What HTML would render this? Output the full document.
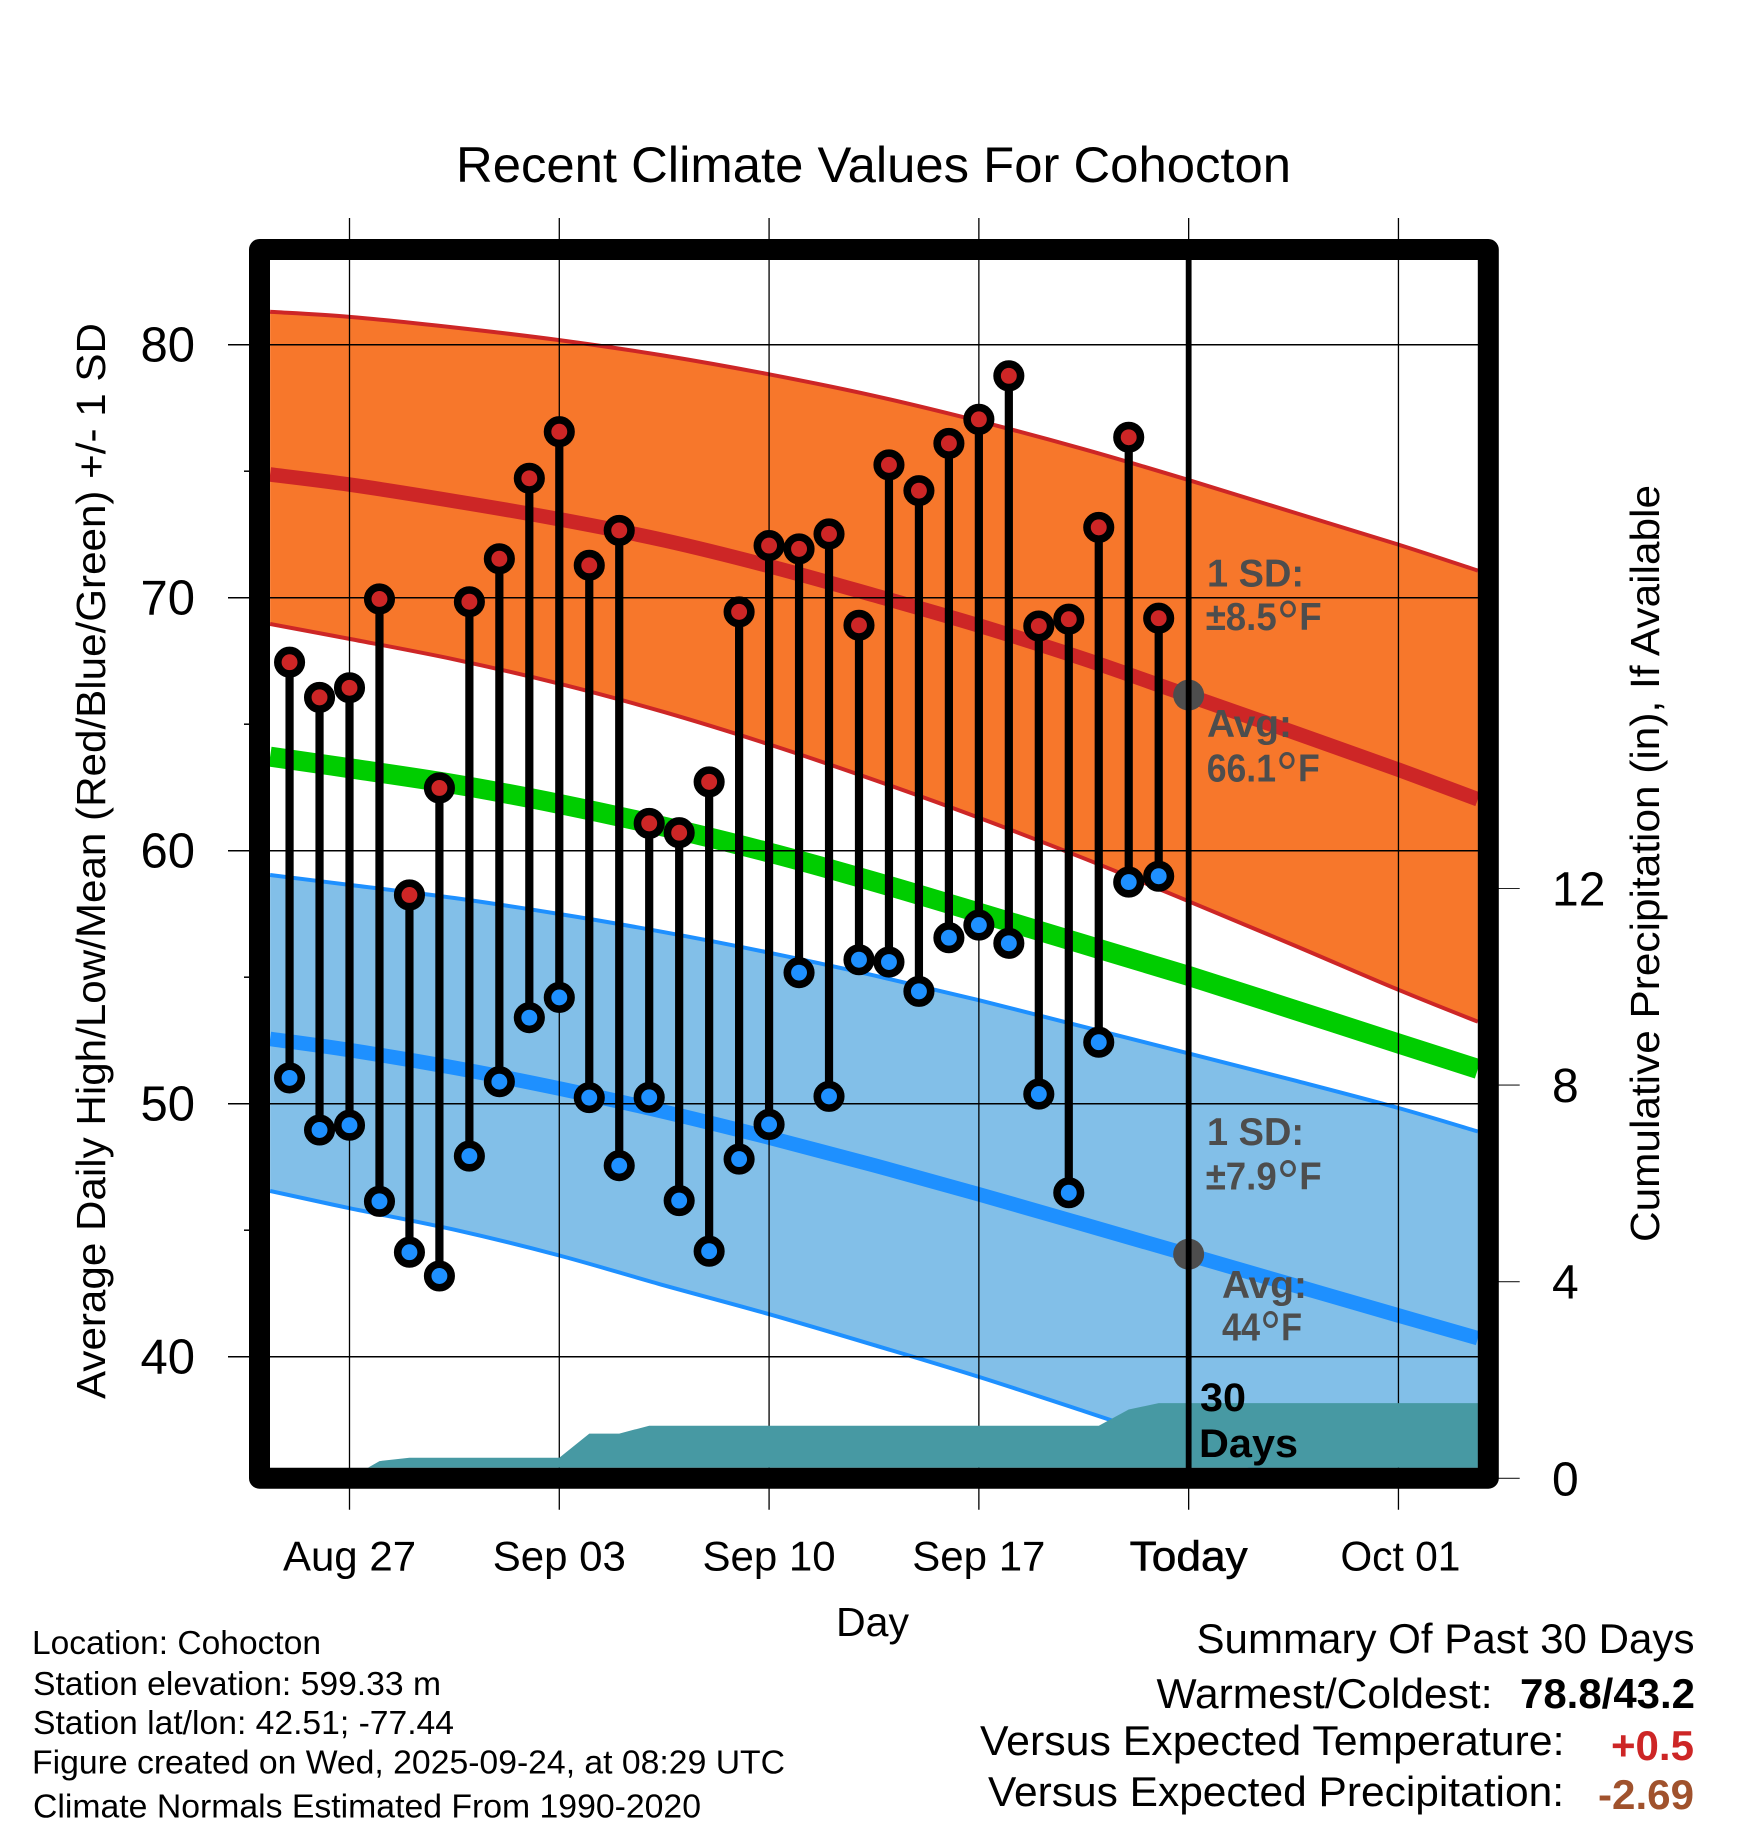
<!DOCTYPE html>
<html lang="en">
<head>
<meta charset="utf-8">
<title>Recent Climate Values For Cohocton</title>
<style>
  html, body { margin: 0; padding: 0; background: #fff; }
  svg { display: block; }
  text { font-family: "Liberation Sans", sans-serif; fill: #000; }
  .note { font-size: 39px; font-weight: bold; fill: #4d4d4d; }
  .meta { font-size: 33px; }
  .summary { font-size: 42px; }
  .strong { font-size: 42px; font-weight: bold; }
</style>
</head>
<body>
<svg id="chart" xmlns="http://www.w3.org/2000/svg" width="1748" height="1828" viewBox="0 0 1748 1828">
  <defs>
    <clipPath id="plot-clip"><rect x="270" y="260" width="1208" height="1207.7"/></clipPath>
  </defs>
  <rect x="0" y="0" width="1748" height="1828" fill="#fff"/>
  <g id="bands" clip-path="url(#plot-clip)"></g>
  <g id="grid"></g>
  <g id="precip" clip-path="url(#plot-clip)"></g>
  <g id="marks"></g>
  <g id="labels"></g>

  <text class="note" x="1207" y="586.7" textLength="97" lengthAdjust="spacingAndGlyphs">1 SD:</text>
  <text class="note" x="1205.7" y="630" textLength="116" lengthAdjust="spacingAndGlyphs">±8.5<tspan dy="13" style="font-size:60px;font-weight:normal">°</tspan><tspan dy="-13">F</tspan></text>
  <text class="note" x="1207" y="737" textLength="85" lengthAdjust="spacingAndGlyphs">Avg:</text>
  <text class="note" x="1206.7" y="781.7" textLength="113" lengthAdjust="spacingAndGlyphs">66.1<tspan dy="13" style="font-size:60px;font-weight:normal">°</tspan><tspan dy="-13">F</tspan></text>
  <text class="note" x="1207" y="1145" textLength="97" lengthAdjust="spacingAndGlyphs">1 SD:</text>
  <text class="note" x="1205.7" y="1189.3" textLength="116" lengthAdjust="spacingAndGlyphs">±7.9<tspan dy="13" style="font-size:60px;font-weight:normal">°</tspan><tspan dy="-13">F</tspan></text>
  <text class="note" x="1222" y="1298" textLength="85" lengthAdjust="spacingAndGlyphs">Avg:</text>
  <text class="note" x="1222" y="1340.7" textLength="80" lengthAdjust="spacingAndGlyphs">44<tspan dy="13" style="font-size:60px;font-weight:normal">°</tspan><tspan dy="-13">F</tspan></text>
  <text x="1200" y="1411" font-size="40" font-weight="bold" textLength="46" lengthAdjust="spacingAndGlyphs">30</text>
  <text x="1199" y="1457" font-size="40" font-weight="bold" textLength="99" lengthAdjust="spacingAndGlyphs">Days</text>

  <rect x="259.5" y="249.5" width="1228.8" height="1228.7" fill="none" stroke="#000" stroke-width="21" stroke-linejoin="round"/>

  <text x="456" y="182" font-size="50" textLength="835" lengthAdjust="spacingAndGlyphs">Recent Climate Values For Cohocton</text>
  <text transform="translate(105 1399) rotate(-90)" x="0" y="0" font-size="40.5" textLength="1076" lengthAdjust="spacingAndGlyphs">Average Daily High/Low/Mean (Red/Blue/Green) +/- 1 SD</text>
  <text transform="translate(1659 1242) rotate(-90)" x="0" y="0" font-size="41" textLength="757" lengthAdjust="spacingAndGlyphs">Cumulative Precipitation (in), If Available</text>
  <text x="836" y="1636" font-size="41" textLength="73" lengthAdjust="spacingAndGlyphs">Day</text>

  <text class="meta" x="32" y="1654" textLength="289" lengthAdjust="spacingAndGlyphs">Location: Cohocton</text>
  <text class="meta" x="33" y="1695" textLength="408" lengthAdjust="spacingAndGlyphs">Station elevation: 599.33 m</text>
  <text class="meta" x="33" y="1734" textLength="421" lengthAdjust="spacingAndGlyphs">Station lat/lon: 42.51; -77.44</text>
  <text class="meta" x="32" y="1773.3" textLength="753" lengthAdjust="spacingAndGlyphs">Figure created on Wed, 2025-09-24, at 08:29 UTC</text>
  <text class="meta" x="33" y="1817.3" textLength="668" lengthAdjust="spacingAndGlyphs">Climate Normals Estimated From 1990-2020</text>

  <text class="summary" x="1196.5" y="1653" textLength="498" lengthAdjust="spacingAndGlyphs">Summary Of Past 30 Days</text>
  <text class="summary" x="1156.5" y="1708" textLength="336" lengthAdjust="spacingAndGlyphs">Warmest/Coldest:</text>
  <text class="strong" x="1520" y="1708" textLength="175" lengthAdjust="spacingAndGlyphs">78.8/43.2</text>
  <text class="summary" x="980" y="1755" textLength="584.5" lengthAdjust="spacingAndGlyphs">Versus Expected Temperature:</text>
  <text class="strong" x="1611" y="1760" textLength="83" lengthAdjust="spacingAndGlyphs" style="fill:#cd2626">+0.5</text>
  <text class="summary" x="988" y="1806" textLength="576" lengthAdjust="spacingAndGlyphs">Versus Expected Precipitation:</text>
  <text class="strong" x="1598" y="1809" textLength="96" lengthAdjust="spacingAndGlyphs" style="fill:#a0522d">-2.69</text>
</svg>

<script>
// ---- Chart data (days counted from Aug 27) ----
const obsDays = [-2,-1,0,1,2,3,4,5,6,7,8,9,10,11,12,13,14,15,16,17,18,19,20,21,22,23,24,25,26,27];
const highs = [67.45,66.06,66.44,69.95,58.25,62.48,69.84,71.54,74.72,76.56,71.28,72.66,61.08,60.71,62.72,69.44,72.06,71.93,72.52,68.91,75.25,74.23,76.1,77.05,78.77,68.88,69.15,72.78,76.34,69.19];
const lows = [51.02,48.96,49.15,46.14,44.13,43.19,47.93,50.87,53.4,54.2,50.24,47.55,50.25,46.17,44.17,47.81,49.18,55.18,50.29,55.69,55.6,54.44,56.56,57.06,56.34,50.38,46.48,52.43,58.76,58.99];

const normalDays = [-2.65,0,3.5,7,10.5,14,17.5,21,24.5,28,31.5,35,37.65];
const highUpper = [81.3,81.1,80.68,80.18,79.57,78.83,77.98,76.98,75.87,74.65,73.37,72.1,71.07];
const highMean = [74.87,74.47,73.82,73.1,72.27,71.25,70.1,68.9,67.58,66.13,64.68,63.2,62.03];
const highLower = [68.96,68.37,67.56,66.6,65.48,64.2,62.8,61.3,59.7,58.0,56.27,54.5,53.24];
const overallMean = [63.72,63.26,62.63,61.85,60.95,59.93,58.78,57.55,56.3,55.05,53.72,52.38,51.37];
const lowUpper = [59.04,58.65,58.13,57.5,56.78,55.97,55.07,54.09,53.04,51.99,50.93,49.83,48.9];
const lowMean = [52.56,52.12,51.42,50.6,49.68,48.66,47.57,46.42,45.23,44.03,42.83,41.63,40.73];
const lowLower = [46.55,45.87,45.02,44.0,42.82,41.68,40.46,39.2,37.85,36.47,35.1,33.7,32.75];

const precipDays = [-2.65,0,1,2,7,8,9,10,25,26,27,37.65];
const precipValues = [0,0,0.35,0.42,0.42,0.91,0.91,1.07,1.07,1.40,1.53,1.53];

const xTickDays = [0,7,14,21,28,35];
const xTickLabels = ['Aug 27','Sep 03','Sep 10','Sep 17','Today','Oct 01'];
const yTickValues = [80,70,60,50,40];
const yMinorValues = [75,65,55,45];
const precipTickValues = [12,8,4,0];
const todayDay = 28;
const todayHighMean = 66.15;
const todayLowMean = 44.05;

// ---- Axis functions ----
function xAxis(day) { return 349.5 + 29.97 * day; }
function yAxis(temp) { return 344.7 + (80 - temp) * 25.3; }
function precipAxis(inches) { return 1478.3 - 49.15 * inches; }

const NS = 'http://www.w3.org/2000/svg';
function make(parentId, tag, attrs) {
  const el = document.createElementNS(NS, tag);
  for (const k in attrs) el.setAttribute(k, attrs[k]);
  document.getElementById(parentId).appendChild(el);
  return el;
}
function pts(days, vals, yf) {
  return days.map((d, i) => xAxis(d).toFixed(1) + ',' + yf(vals[i]).toFixed(1));
}
// Smooth curve through the readings (Catmull-Rom as cubic Beziers), without the leading move/line.
function smoothSegments(days, vals) {
  const p = days.map((d, i) => [xAxis(d), yAxis(vals[i])]);
  let out = '';
  for (let i = 0; i < p.length - 1; i++) {
    const a = p[Math.max(i - 1, 0)], b = p[i], c = p[i + 1], e = p[Math.min(i + 2, p.length - 1)];
    const c1x = b[0] + (c[0] - a[0]) / 6, c1y = b[1] + (c[1] - a[1]) / 6;
    const c2x = c[0] - (e[0] - b[0]) / 6, c2y = c[1] - (e[1] - b[1]) / 6;
    out += ' C' + c1x.toFixed(1) + ' ' + c1y.toFixed(1) + ' ' + c2x.toFixed(1) + ' ' + c2y.toFixed(1) + ' ' + c[0].toFixed(1) + ' ' + c[1].toFixed(1);
  }
  return out;
}
function startPoint(days, vals) {
  return xAxis(days[0]).toFixed(1) + ' ' + yAxis(vals[0]).toFixed(1);
}
function bandPath(upper, lower) {
  const revDays = normalDays.slice().reverse();
  const revLower = lower.slice().reverse();
  return 'M' + startPoint(normalDays, upper) + smoothSegments(normalDays, upper) +
    ' L' + startPoint(revDays, revLower) + smoothSegments(revDays, revLower) + ' Z';
}

// ---- Bands ----
const highBand = make('bands', 'path', { d: bandPath(highUpper, highLower), fill: '#f7772b' });



const lowBand = make('bands', 'path', { d: bandPath(lowUpper, lowLower), fill: '#82bfe8' });



function curve(vals, color, width) {
  return make('bands', 'path', {
    d: 'M' + startPoint(normalDays, vals) + smoothSegments(normalDays, vals),
    fill: 'none', stroke: color, 'stroke-width': width, 'stroke-linejoin': 'round'
  });
}
const highUpperLine = curve(highUpper, '#cd2626', 4);


const highLowerLine = curve(highLower, '#cd2626', 4);


const lowUpperLine = curve(lowUpper, '#1e90ff', 4);


const lowLowerLine = curve(lowLower, '#1e90ff', 4);


const highMeanLine = curve(highMean, '#cd2626', 14.5);


const lowMeanLine = curve(lowMean, '#1e90ff', 14.5);


const overallMeanLine = curve(overallMean, '#00cd00', 20);



// ---- Grid and ticks ----
xTickDays.forEach(function (d, i) {
  const line = make('grid', 'line', { x1: xAxis(d), x2: xAxis(d), y1: 218, y2: 1509.7, stroke: '#000', 'stroke-width': 1.3 });
  
  
  const label = make('labels', 'text', { x: xAxis(d), y: 1570.7, 'font-size': 42, 'text-anchor': 'middle' });
  label.textContent = xTickLabels[i];
  if (xTickLabels[i] === 'Today') {
    label.setAttribute('textLength', 118);
    label.setAttribute('lengthAdjust', 'spacingAndGlyphs');
    label.setAttribute('stroke', '#000');
    label.setAttribute('stroke-width', '0.6');
  }
  if (xTickLabels[i] === 'Oct 01') {
    label.setAttribute('dx', '2');
    label.setAttribute('textLength', 120);
    label.setAttribute('lengthAdjust', 'spacingAndGlyphs');
  }
  
  
});
yTickValues.forEach(function (v) {
  const line = make('grid', 'line', { x1: 228, x2: 1478, y1: yAxis(v), y2: yAxis(v), stroke: '#000', 'stroke-width': 1.5 });
  
  
  const label = make('labels', 'text', { x: 195, y: yAxis(v) + 17, 'font-size': 49, 'text-anchor': 'end' });
  label.textContent = String(v);
  
  
});
yMinorValues.forEach(function (v) {
  const tick = make('grid', 'line', { x1: 244, x2: 250, y1: yAxis(v), y2: yAxis(v), stroke: '#000', 'stroke-width': 1.5 });
  
  
});
precipTickValues.forEach(function (v) {
  const tick = make('grid', 'line', { x1: 1498, x2: 1519.7, y1: precipAxis(v), y2: precipAxis(v), stroke: '#222', 'stroke-width': 1.1 });
  
  
  const label = make('labels', 'text', { x: 1552, y: precipAxis(v) + 17, 'font-size': 48 });
  label.textContent = String(v);
  
  
});

// ---- Cumulative precipitation ----
const precipArea = make('precip', 'polygon', {
  points: pts(precipDays, precipValues, precipAxis).concat([
    xAxis(precipDays[precipDays.length - 1]).toFixed(1) + ',' + precipAxis(0).toFixed(1),
    xAxis(precipDays[0]).toFixed(1) + ',' + precipAxis(0).toFixed(1)
  ]).join(' '),
  fill: '#4799a3'
});



// ---- Daily high / low marks ----
obsDays.forEach(function (d, i) {
  const stem = make('marks', 'line', { x1: xAxis(d), x2: xAxis(d), y1: yAxis(highs[i]), y2: yAxis(lows[i]), stroke: '#000', 'stroke-width': 8.2 });
  
  
});

const todayHighDot = make('marks', 'circle', { cx: xAxis(todayDay), cy: yAxis(todayHighMean), r: 15.5, fill: '#4d4d4d' });


const todayLowDot = make('marks', 'circle', { cx: xAxis(todayDay), cy: yAxis(todayLowMean), r: 15.5, fill: '#4d4d4d' });


const todayLine = make('marks', 'line', { x1: xAxis(todayDay), x2: xAxis(todayDay), y1: 250, y2: 1478, stroke: '#000', 'stroke-width': 5.8 });



obsDays.forEach(function (d, i) {
  const hi = make('marks', 'circle', { cx: xAxis(d), cy: yAxis(highs[i]), r: 11.75, fill: '#cd2626', stroke: '#000', 'stroke-width': 7.6 });
  
  
  const lo = make('marks', 'circle', { cx: xAxis(d), cy: yAxis(lows[i]), r: 11.75, fill: '#1e90ff', stroke: '#000', 'stroke-width': 7.6 });
  
  
});
</script>
</body>
</html>
